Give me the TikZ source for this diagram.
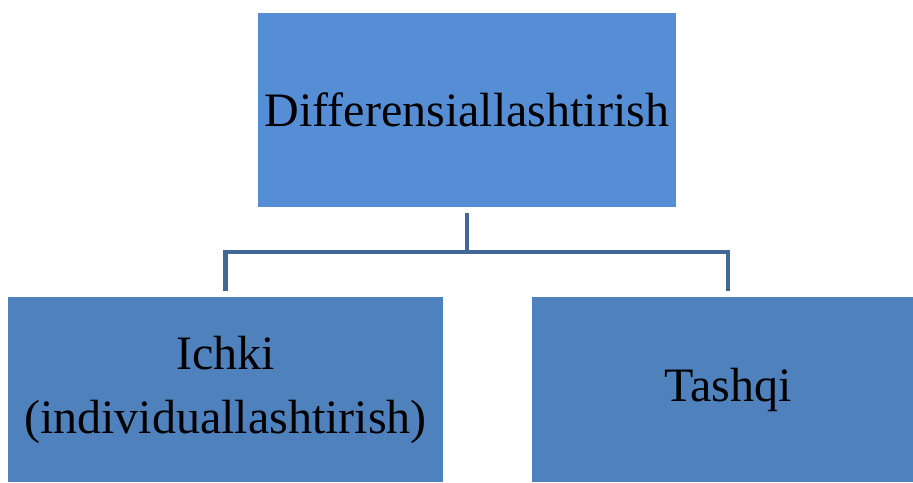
\documentclass[tikz,border=0pt]{standalone}
\usepackage{fontspec}
\setmainfont{Liberation Serif}
\usepackage{tikz}

\definecolor{topblue}{RGB}{85,142,213}
\definecolor{subblue}{RGB}{79,129,189}
\definecolor{linkblue}{RGB}{65,102,152}

\begin{document}
\begin{tikzpicture}[x=0.5pt,y=-0.5pt]
  \tikzset{block/.style = {draw=none,inner sep=0pt,align=center,font=\fontsize{24}{32}\selectfont}}
  \tikzset{link/.style = {-,draw=linkblue,line width=2.3pt,shorten <=3pt,shorten >=3pt}}

\useasboundingbox (0,0) rectangle (913,482);

\node[block,fill=topblue,minimum width=209pt,minimum height=97pt] (diff) at (467,110) {Differensiallashtirish};
\node[block,fill=subblue,minimum width=217.5pt,minimum height=92.5pt] (ichki) at (225.5,389.5) {Ichki\\(individuallashtirish)};
\node[block,fill=subblue,minimum width=196pt,minimum height=92.5pt] (tashqi) at (728,389.5) {Tashqi};
\coordinate (fork) at (467,252);

    \draw[link] (diff.south) -- (fork) -| (ichki.north);
    \draw[link] (diff.south) -- (fork) -| (tashqi.north);

\end{tikzpicture}
\end{document}
